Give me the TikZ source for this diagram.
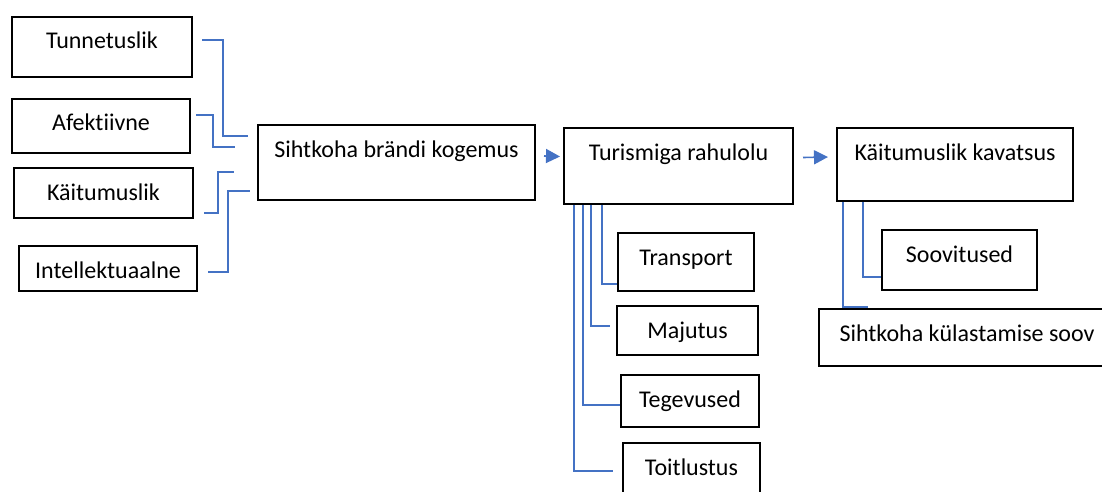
\documentclass[tikz,border=0pt]{standalone}
\usepackage{fontspec}
\setmainfont{Carlito}[Ligatures=NoCommon]
\usepackage{xcolor}
\usetikzlibrary{arrows.meta}
\definecolor{linkblue}{HTML}{4472C4}

\begin{document}
\begin{tikzpicture}[
    x=0.5pt, y=-0.5pt,
    font=\fontsize{12}{14}\selectfont,
    box/.style={
        rectangle, draw=black, line width=1pt, fill=white,
        inner sep=0pt, text height=16pt, anchor=north west
    },
    link/.style={
        draw=linkblue, line width=0.6pt
    },
    flow/.style={
        draw=linkblue, line width=0.8pt, -{Triangle[length=7pt,width=7pt]}
    }
]
\useasboundingbox (0,0) rectangle (1102,492);
\clip (0,0) rectangle (1102,492);

% Left column
\node[box, minimum width=90pt, text depth=14pt] (tunnet) at (11,16) {Tunnetuslik};
\node[box, minimum width=89pt, text depth=11pt] (afekt) at (11,98) {Afektiivne};
\node[box, minimum width=89.5pt, text depth=9pt] (kaitum) at (13,167) {Käitumuslik};
\node[box, minimum width=89pt, text depth=6.5pt] (intel) at (18,245) {Intellektuaalne};

% Main chain
\node[box, minimum width=138.5pt, text depth=21.5pt] (brand) at (257,124) {Sihtkoha brändi kogemus};
\node[box, minimum width=114.5pt, text depth=22pt] (rahul) at (563,127) {Turismiga rahulolu};
\node[box, minimum width=118pt, text depth=20.5pt] (kavats) at (836,127) {Käitumuslik kavatsus};

% Under Turismiga rahulolu
\node[box, minimum width=68pt, text depth=13pt] (transp) at (617,232) {Transport};
\node[box, minimum width=70.5pt, text depth=8.5pt] (majut) at (616,305) {Majutus};
\node[box, minimum width=69pt, text depth=10pt] (tegev) at (620,374) {Tegevused};
\node[box, minimum width=68.5pt, text depth=13pt] (toitl) at (622,442) {Toitlustus};

% Under Käitumuslik kavatsus
\node[box, minimum width=77.5pt, text depth=14pt] (soovit) at (881,229) {Soovitused};
\node[box, minimum width=148pt, text depth=12.5pt] (kylast) at (818,308) {Sihtkoha külastamise soov};

% Draw connections
\draw[link] ([shift={(9,-7)}]tunnet.east) -| ([shift={(-34,-26.5)}]brand.west) -- ([shift={(-9,-26.5)}]brand.west);
\draw[link] ([shift={(5,-11)}]afekt.east) -| ([shift={(-44,-15.5)}]brand.west) -- ([shift={(-22,-15.5)}]brand.west);
\draw[link] ([shift={(10,20)}]kaitum.east) -| ([shift={(-39,9.5)}]brand.west) -- ([shift={(-23,9.5)}]brand.west);
\draw[link] ([shift={(10,3.5)}]intel.east) -| ([shift={(-29,28.5)}]brand.west) -- ([shift={(-7,28.5)}]brand.west);

\draw[flow] ([shift={(8,-6.5)}]brand.east) -- ([shift={(-3,-9.5)}]rahul.west);
\draw[flow] ([shift={(9,-8.5)}]rahul.east) -- ([shift={(-8,-7.5)}]kavats.west);

\draw[link] ([xshift=19.5pt]rahul.south west) |- ([shift={(0,22)}]transp.west);
\draw[link] ([xshift=14pt]rahul.south west) |- ([shift={(-6,-4.5)}]majut.west);
\draw[link] ([xshift=10pt]rahul.south west) |- ([shift={(0,4)}]tegev.west);
\draw[link] ([xshift=5.5pt]rahul.south west) |- ([shift={(-9,-1)}]toitl.west);

\draw[link] ([xshift=13.5pt]kavats.south west) |- ([shift={(0,17)}]soovit.west);
\draw[link] ([xshift=3.5pt]kavats.south west) |- ([shift={(50,-1)}]kylast.north west);

\end{tikzpicture}
\end{document}
